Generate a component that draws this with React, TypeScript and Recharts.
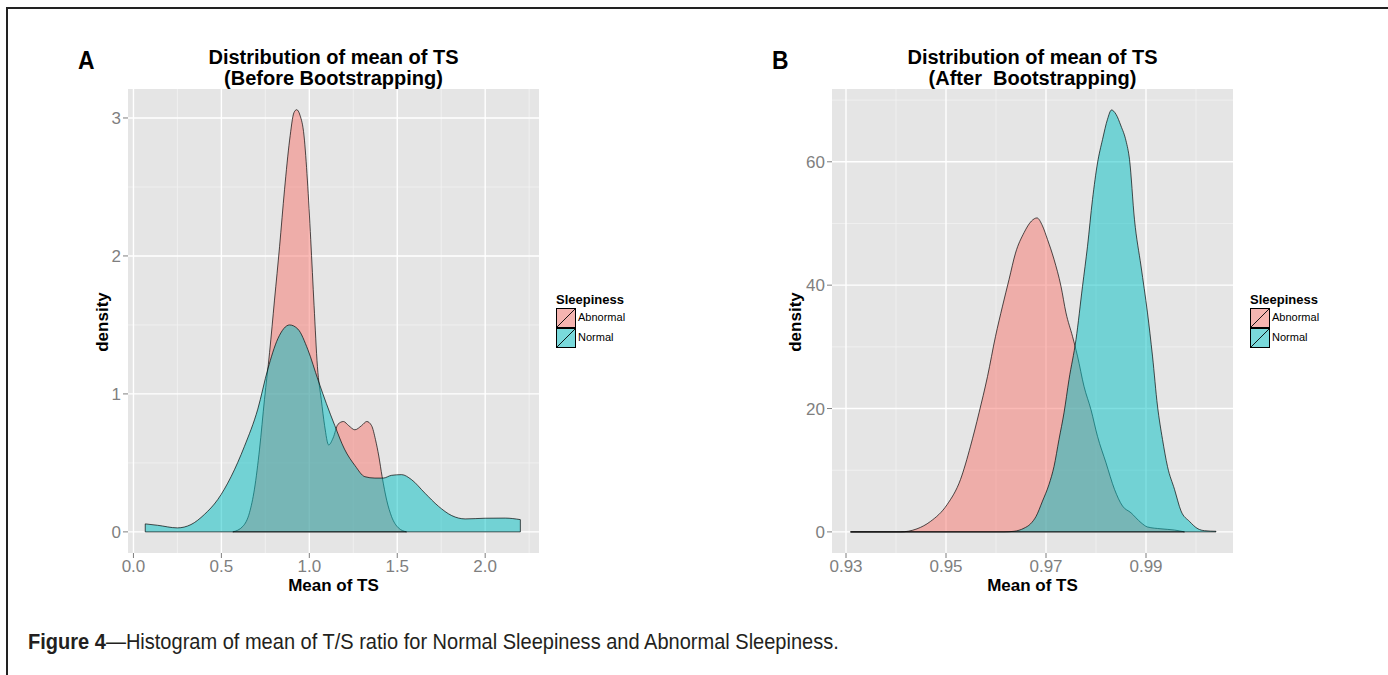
import React from 'react';
import { ComposedChart, Area, XAxis, YAxis, CartesianGrid, ReferenceLine } from 'recharts';

// ---------- Panel A (before bootstrapping) ----------
const aAbnormalX = [0.565, 0.622, 0.66, 0.688, 0.717, 0.745, 0.774, 0.802, 0.831, 0.859, 0.888, 0.913, 0.928, 0.947, 0.97, 0.989, 1.008, 1.027, 1.046, 1.068, 1.087, 1.11, 1.135, 1.163, 1.194, 1.224, 1.259, 1.297, 1.327, 1.354, 1.376, 1.395, 1.414, 1.44, 1.468, 1.506, 1.553];
const aAbnormalY = [0, 0.04, 0.14, 0.31, 0.6, 0.96, 1.3, 1.68, 2.07, 2.48, 2.84, 3.04, 3.06, 3.02, 2.87, 2.55, 2.12, 1.64, 1.2, 0.96, 0.77, 0.63, 0.68, 0.78, 0.8, 0.77, 0.74, 0.77, 0.8, 0.77, 0.67, 0.55, 0.4, 0.23, 0.11, 0.03, 0];
const aNormalX = [0.067, 0.137, 0.25, 0.327, 0.403, 0.479, 0.555, 0.631, 0.707, 0.764, 0.821, 0.888, 0.935, 0.992, 1.05, 1.097, 1.145, 1.2, 1.26, 1.316, 1.373, 1.42, 1.468, 1.525, 1.58, 1.658, 1.734, 1.81, 1.886, 2.0, 2.114, 2.2];
const aNormalY = [0.058, 0.048, 0.029, 0.053, 0.126, 0.234, 0.4, 0.62, 0.89, 1.18, 1.4, 1.5, 1.47, 1.32, 1.1, 0.93, 0.77, 0.6, 0.48, 0.4, 0.39, 0.39, 0.41, 0.415, 0.38, 0.28, 0.186, 0.118, 0.094, 0.099, 0.1, 0.089];
const aTicksX = [0, 0.5, 1, 1.5, 2];
const aTicksY = [0, 1, 2, 3];
const aMinorX = [0.25, 0.75, 1.25, 1.75, 2.25];
const aMinorY = [0.5, 1.5, 2.5];
const aDomainX = [-0.031, 2.306];
const aDomainY = [-0.153, 3.21];

// ---------- Panel B (after bootstrapping) ----------
const bAbnormalX = [0.9309, 0.9409, 0.9442, 0.9469, 0.9502, 0.9529, 0.9549, 0.9566, 0.9583, 0.9599, 0.9613, 0.9626, 0.9639, 0.9656, 0.9671, 0.9682, 0.9693, 0.9703, 0.9716, 0.973, 0.974, 0.9753, 0.9763, 0.9776, 0.979, 0.9803, 0.982, 0.9837, 0.9853, 0.987, 0.989, 0.9903, 0.993, 0.9957, 0.9977];
const bAbnormalY = [0, 0, 0.5, 1.7, 4.4, 8.5, 13.9, 19.3, 25.2, 31.7, 36.6, 40.9, 45.2, 48.5, 50.4, 50.9, 49.6, 47.4, 44.2, 39.8, 35.5, 31.7, 28.5, 23.6, 19.8, 15.5, 11.2, 6.9, 4.2, 3.1, 1.5, 0.8, 0.5, 0.3, 0];
const bNormalX = [0.9309, 0.9616, 0.9636, 0.9656, 0.9669, 0.968, 0.9693, 0.9706, 0.9716, 0.9726, 0.9736, 0.9746, 0.976, 0.9773, 0.9783, 0.9793, 0.9803, 0.9813, 0.9823, 0.9831, 0.984, 0.985, 0.986, 0.9867, 0.9877, 0.989, 0.9903, 0.9913, 0.9923, 0.9933, 0.9943, 0.9957, 0.997, 0.9987, 1.0004, 1.0017, 1.004];
const bNormalY = [0, 0, 0.1, 0.6, 1.3, 2.5, 5.0, 7.7, 10.6, 15.0, 19.3, 24.7, 31.2, 39.8, 46.3, 53.9, 59.8, 63.6, 66.9, 68.4, 67.7, 65.8, 63.4, 60.4, 50.6, 43.1, 35.5, 28.5, 20.4, 15.0, 10.6, 6.9, 3.4, 1.7, 0.5, 0.2, 0.1];
const bTicksX = [0.93, 0.95, 0.97, 0.99];
const bTicksY = [0, 20, 40, 60];
const bMinorX = [0.94, 0.96, 0.98, 1.0];
const bMinorY = [10, 30, 50, 70];
const bDomainX = [0.9272, 1.0074];
const bDomainY = [-3.42, 71.8];

const seriesNames = ['Abnormal', 'Normal'];
const fillColors = ['#F8766D', '#00BFC4'];

function mergeSeries(ax: number[], ay: number[], nx: number[], ny: number[]) {
  const map = new Map<number, any>();
  ax.forEach((x, i) => {
    const r = map.get(x) || { x, abnormal: null, normal: null };
    r.abnormal = ay[i];
    map.set(x, r);
  });
  nx.forEach((x, i) => {
    const r = map.get(x) || { x, abnormal: null, normal: null };
    r.normal = ny[i];
    map.set(x, r);
  });
  return Array.from(map.values()).sort((a, b) => a.x - b.x);
}

const tickStyle = { fill: '#7F7F7F', fontSize: 17, fontFamily: 'Liberation Sans, Arial, sans-serif' };

type PanelProps = {
  left: number;
  width: number;
  yAxisWidth: number;
  ax: number[]; ay: number[]; nx: number[]; ny: number[];
  ticksX: number[]; ticksY: number[]; minorX: number[]; minorY: number[];
  domainX: number[]; domainY: number[];
  digits: number;
};

function Panel(p: PanelProps) {
  const data = mergeSeries(p.ax, p.ay, p.nx, p.ny);
  const edges: { xs: number[]; ys: number[] }[] = [
    { xs: p.ax, ys: p.ay },
    { xs: p.nx, ys: p.ny },
  ];
  return (
    <div style={{ position: 'absolute', left: p.left, top: 80 }}>
      <ComposedChart width={p.width} height={520} data={data} margin={{ top: 9, right: 0, bottom: 0, left: 0 }}>
        <CartesianGrid fill="#E5E5E5" stroke="#F2F2F2" strokeWidth={0.8} verticalValues={p.minorX} horizontalValues={p.minorY} />
        <CartesianGrid stroke="#FFFFFF" strokeWidth={1.4} verticalValues={p.ticksX} horizontalValues={p.ticksY} />
        <XAxis
          type="number"
          dataKey="x"
          domain={p.domainX}
          allowDataOverflow
          ticks={p.ticksX}
          tickFormatter={(v: number) => v.toFixed(p.digits)}
          axisLine={false}
          tickLine={{ stroke: '#7F7F7F' }}
          tickSize={5}
          tickMargin={2}
          tick={tickStyle}
          height={47}
          interval={0}
        />
        <YAxis
          type="number"
          domain={p.domainY}
          allowDataOverflow
          ticks={p.ticksY}
          axisLine={false}
          tickLine={{ stroke: '#7F7F7F' }}
          tickSize={5}
          tickMargin={2}
          tick={tickStyle}
          width={p.yAxisWidth}
          interval={0}
        />
        <Area
          type="monotone"
          dataKey="abnormal"
          name={seriesNames[0]}
          fill={fillColors[0]}
          fillOpacity={0.5}
          stroke="#000"
          strokeWidth={0.8}
          strokeOpacity={0.85}
          baseValue={0}
          connectNulls
          dot={false}
          activeDot={false}
          isAnimationActive={false}
        />
        <Area
          type="monotone"
          dataKey="normal"
          name={seriesNames[1]}
          fill={fillColors[1]}
          fillOpacity={0.5}
          stroke="#000"
          strokeWidth={0.8}
          strokeOpacity={0.85}
          baseValue={0}
          connectNulls
          dot={false}
          activeDot={false}
          isAnimationActive={false}
        />
        {edges.map((e, i) => (
          <ReferenceLine
            key={'b' + i}
            segment={[{ x: e.xs[0], y: 0 }, { x: e.xs[e.xs.length - 1], y: 0 }]}
            stroke="#000"
            strokeWidth={0.8}
            strokeOpacity={0.85}
          />
        ))}
        {edges.map((e, i) => (
          <ReferenceLine
            key={'l' + i}
            segment={[{ x: e.xs[0], y: 0 }, { x: e.xs[0], y: e.ys[0] }]}
            stroke="#000"
            strokeWidth={0.8}
            strokeOpacity={0.85}
          />
        ))}
        {edges.map((e, i) => (
          <ReferenceLine
            key={'r' + i}
            segment={[{ x: e.xs[e.xs.length - 1], y: 0 }, { x: e.xs[e.xs.length - 1], y: e.ys[e.ys.length - 1] }]}
            stroke="#000"
            strokeWidth={0.8}
            strokeOpacity={0.85}
          />
        ))}
      </ComposedChart>
    </div>
  );
}

function LegendBox({ left }: { left: number }) {
  return (
    <div style={{ position: 'absolute', left, top: 292, fontFamily: 'Liberation Sans, Arial, sans-serif' }}>
      <div style={{ fontWeight: 'bold', fontSize: 13, lineHeight: '16px', color: '#000' }}>Sleepiness</div>
      {seriesNames.map((n, i) => (
        <div key={n} style={{ display: 'flex', alignItems: 'center', height: 20 }}>
          <svg width={20} height={20} style={{ display: 'block' }}>
            <rect x={0} y={0} width={20} height={20} fill="#F2F2F2" />
            <rect x={0.5} y={0.5} width={19} height={19} fill={fillColors[i]} fillOpacity={0.5} stroke="#000" strokeWidth={1} />
            <line x1={0.5} y1={19.5} x2={19.5} y2={0.5} stroke="#000" strokeWidth={0.9} />
          </svg>
          <span style={{ fontSize: 11, marginLeft: 2, marginTop: -3, color: '#000' }}>{n}</span>
        </div>
      ))}
    </div>
  );
}

function Titles({ plotLeft, plotWidth, line2, letter, letterLeft, densityX }: { plotLeft: number; plotWidth: number; line2: string; letter: string; letterLeft: number; densityX: number }) {
  const font = 'Liberation Sans, Arial, sans-serif';
  return (
    <>
      <div style={{ position: 'absolute', left: letterLeft, top: 45, fontFamily: font, fontWeight: 'bold', fontSize: 26, lineHeight: '30px', color: '#000', transform: 'scaleX(0.88)', transformOrigin: 'left top' }}>{letter}</div>
      <div style={{ position: 'absolute', left: plotLeft, width: plotWidth, top: 47, textAlign: 'center', fontFamily: font, fontWeight: 'bold', fontSize: 20, lineHeight: '21px', color: '#000', whiteSpace: 'pre' }}>
        {'Distribution of mean of TS'}
        <br />
        {line2}
      </div>
      <div style={{ position: 'absolute', left: plotLeft, width: plotWidth, top: 575, textAlign: 'center', fontFamily: font, fontWeight: 'bold', fontSize: 17, lineHeight: '22px', color: '#000' }}>Mean of TS</div>
      <div style={{ position: 'absolute', left: densityX - 60, width: 120, top: 311, textAlign: 'center', fontFamily: font, fontWeight: 'bold', fontSize: 17, lineHeight: '22px', color: '#000', transform: 'rotate(-90deg)' }}>density</div>
    </>
  );
}

export default function App() {
  return (
    <div style={{ position: 'absolute', left: 0, top: 0, width: 1388, height: 675, background: '#fff', overflow: 'hidden' }}>
      <div style={{ position: 'absolute', left: 6, top: 7, width: 1400, height: 700, borderTop: '2px solid #222', borderLeft: '2px solid #222' }} />
      <Panel left={60} width={479} yAxisWidth={68} ax={aAbnormalX} ay={aAbnormalY} nx={aNormalX} ny={aNormalY}
        ticksX={aTicksX} ticksY={aTicksY} minorX={aMinorX} minorY={aMinorY} domainX={aDomainX} domainY={aDomainY} digits={1} />
      <Panel left={760} width={473} yAxisWidth={72} ax={bAbnormalX} ay={bAbnormalY} nx={bNormalX} ny={bNormalY}
        ticksX={bTicksX} ticksY={bTicksY} minorX={bMinorX} minorY={bMinorY} domainX={bDomainX} domainY={bDomainY} digits={2} />
      <Titles plotLeft={128} plotWidth={411} line2="(Before Bootstrapping)" letter="A" letterLeft={78} densityX={103} />
      <Titles plotLeft={832} plotWidth={401} line2="(After  Bootstrapping)" letter="B" letterLeft={772} densityX={796} />
      <LegendBox left={556} />
      <LegendBox left={1250} />
      <div style={{ position: 'absolute', left: 28, top: 629, fontFamily: 'Liberation Sans, Arial, sans-serif', fontSize: 22, lineHeight: '26px', color: '#231F20', whiteSpace: 'nowrap', transform: 'scaleX(0.91)', transformOrigin: 'left top' }}>
        <b>Figure 4</b>{'\u2014Histogram of mean of T/S ratio for Normal Sleepiness and Abnormal Sleepiness.'}
      </div>
    </div>
  );
}
